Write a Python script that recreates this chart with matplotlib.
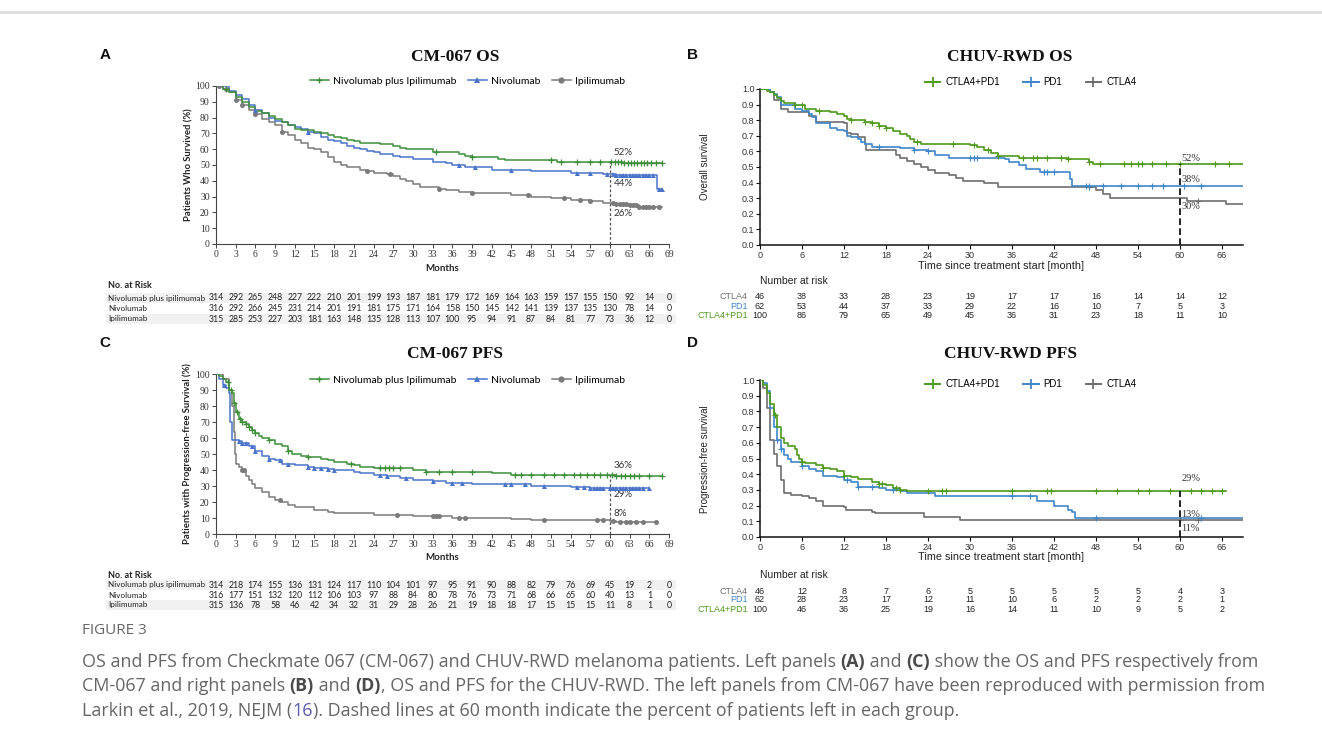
import numpy as np
import matplotlib
matplotlib.use("Agg")
import matplotlib.pyplot as plt
from matplotlib.lines import Line2D
from matplotlib.patches import Rectangle
import matplotlib.transforms as mtransforms

W, H = 1322, 742
fig = plt.figure(figsize=(W / 100, H / 100), dpi=100)
fig.patch.set_facecolor("white")

# ---------------- DATA ----------------
# Panel A: CM-067 OS (percent)
a_combo_t = [0, 1, 2, 3, 4, 5, 6, 7, 8, 9, 10, 11, 12, 13, 15, 16, 17, 18, 19, 20, 21, 22, 25, 27, 28, 29, 33, 37, 38, 39, 43, 44, 52, 62]
a_combo_s = [100, 98, 96, 93, 90, 87, 84, 83, 81, 79, 77, 75, 73, 72, 71, 70, 69, 68, 67, 66, 65, 64, 63, 62, 61, 60, 58, 57, 56, 55, 54, 53, 52, 51]
a_combo_end = 68
a_combo_cens = [1.5, 33.5, 39, 51, 52.5, 55, 57, 58.5, 60.2, 60.7, 61.2, 61.7, 62.2, 62.7, 63.2, 63.7, 64.2, 64.7, 65.2, 65.7, 66.2, 67, 68]
a_nivo_t = [0, 2, 3, 4, 5, 6, 7, 8, 9, 10, 11, 12, 13, 14, 15, 16, 17, 18, 19, 20, 21, 22, 23, 24, 25, 27, 28, 30, 33, 35, 36, 38, 42, 48, 54, 59, 61, 67.2]
a_nivo_s = [100, 97, 94, 92, 88, 85, 83, 80, 78, 77, 75, 74, 73, 71, 70, 68, 66, 65, 64, 62, 61, 60, 59, 58, 57, 56, 55, 54, 52, 51, 50, 49, 47, 46, 45, 44, 43.5, 35]
a_nivo_end = 68
a_nivo_cens = [6, 14, 37, 39.5, 45, 55, 57, 59.5, 60.5, 61, 61.5, 62, 62.5, 63, 63.5, 64, 64.5, 65, 65.5, 66, 66.5, 67.5, 68]
a_ipi_t = [0, 1, 2, 3, 4, 5, 6, 7, 8, 9, 10, 11, 12, 13, 14, 15, 16, 17, 18, 19, 20, 22, 23, 24, 26, 27, 28, 29, 30, 31, 34, 35, 37, 39, 45, 48, 51, 54, 57, 59, 61, 63, 64.5]
a_ipi_s = [100, 98, 96, 91, 88, 85, 82, 79, 77, 75, 71, 69, 66, 64, 61, 60, 58, 55, 52, 50, 49, 47, 46, 45, 44, 43, 41, 40, 38, 36, 35, 34, 33, 32, 31, 30, 29, 28, 27, 26, 25, 24.5, 23.5]
a_ipi_end = 68
a_ipi_cens = [0.5, 1.5, 3, 4, 6, 10, 23, 26.5, 34, 39, 47.5, 53, 55.5, 57, 60.5, 61, 61.5, 62, 62.5, 63, 63.5, 64, 64.5, 65, 65.5, 66, 66.5, 67.5]

# Panel C: CM-067 PFS (percent)
c_combo_t = [0, 0.5, 1, 1.5, 2, 2.5, 2.7, 3, 3.5, 4, 4.5, 5, 5.5, 6, 6.5, 7, 8, 9, 10, 11, 11.5, 13, 14, 16, 17, 18, 20, 21, 22, 24, 30, 32, 39, 42, 45, 61]
c_combo_s = [100, 99, 97, 95, 90, 88, 82, 76, 72, 70, 69, 67, 65, 63, 61, 60, 59, 56, 55, 52, 50, 49, 48, 47, 46, 45, 44, 43, 42, 41, 40, 39, 38.5, 38, 37, 36.5]
c_combo_end = 68
c_combo_cens = [1.8, 2.3, 2.8, 3.2, 3.6, 4.0, 4.5, 5.0, 5.5, 6.0, 8.0, 11.0, 14.0, 20.5, 25, 25.7, 26.3, 27, 28, 32, 34, 36, 39, 45.5, 46.5, 48, 50, 51.5, 53, 54.5, 55.5, 56.5, 57.5, 58.5, 59.5, 60.3, 61, 61.7, 62.3, 63, 63.7, 64.5, 66, 68]
c_nivo_t = [0, 0.5, 1, 1.5, 2, 2.2, 2.4, 3.5, 4, 5, 6, 7, 8, 9, 10, 12, 14, 15, 17, 18, 21, 22, 24, 26, 28, 30, 33, 35, 39, 48, 54, 57]
c_nivo_s = [100, 97, 93, 91, 88, 70, 59, 58, 57, 55, 52, 49, 47, 46, 44, 43, 42, 41, 40.5, 40, 39, 38, 37, 36, 35, 34, 33, 32, 31, 30, 29.5, 29]
c_nivo_end = 66
c_nivo_cens = [1.2, 3.5, 4.0, 4.5, 5.5, 6, 8, 9.8, 11, 14, 15, 16, 17, 18, 25, 26, 29, 33, 36, 37.5, 44, 45, 47, 50, 55, 56, 57, 57.5, 58, 58.5, 59, 60, 60.5, 61, 61.5, 62, 62.5, 63, 63.5, 64, 64.5, 65, 66]
c_ipi_t = [0, 1, 2, 2.5, 2.7, 2.9, 3, 3.5, 4, 4.5, 5, 5.5, 6, 7, 8, 9, 10, 11, 12, 15, 17, 18, 24, 30, 36, 45, 48, 57, 60, 61]
c_ipi_s = [100, 97, 90, 80, 64, 50, 44, 42, 40, 36, 34, 31, 29, 26, 23, 21, 20, 18, 17, 15, 14, 13, 12, 11, 10, 9.5, 9, 8.5, 8, 7.5]
c_ipi_end = 67
c_ipi_cens = [4, 4.2, 9.8, 27.5, 33, 33.5, 34, 37, 38, 50, 58, 59, 60.5, 61.5, 62.5, 63, 64, 65, 67]

# Panel B: CHUV-RWD OS (fraction)
b_combo_t = [0, 1, 1.5, 2, 2.5, 3, 3.5, 5, 6.5, 8, 10, 11, 12, 12.5, 13, 15, 16, 17, 18, 19, 20, 21, 21.5, 22, 23, 30, 31, 32, 33, 34, 37, 44, 47, 47.5]
b_combo_s = [1, .99, .98, .96, .94, .92, .91, .90, .87, .86, .85, .84, .83, .81, .80, .79, .78, .76, .75, .73, .71, .70, .68, .66, .65, .64, .63, .61, .59, .57, .56, .55, .53, .52]
b_combo_end = 69
b_combo_cens = [5, 6, 8.5, 13, 15, 16, 17, 18, 22.5, 27.5, 30.5, 32.5, 34, 37.5, 39, 39.5, 41, 43, 44, 47, 48.5, 52, 53, 54, 54.5, 56, 58, 60, 65, 67]
b_pd1_t = [0, 1.5, 2, 2.5, 3, 5, 6, 7, 7.5, 8, 10, 11, 12, 12.5, 13, 14, 14.5, 15, 16, 20, 22, 24, 25, 27, 35, 35.5, 37, 38, 40, 44.3, 44.6]
b_pd1_s = [1, .98, .97, .95, .90, .87, .86, .84, .82, .78, .75, .74, .73, .70, .69, .68, .66, .65, .63, .62, .61, .60, .58, .56, .55, .53, .51, .49, .47, .42, .38]
b_pd1_end = 69
b_pd1_cens = [17, 22, 24, 30, 30.5, 31, 40.5, 41, 42, 46.5, 47, 49, 51.5, 54, 56, 57.5, 60.5, 63]
b_ctla4_t = [0, 1.5, 2, 3, 4, 7, 8, 12, 12.5, 13, 14, 15, 15.2, 19.5, 20, 21, 22, 23, 24, 25, 27, 28, 29, 32, 34, 48, 49, 50, 61, 66.5]
b_ctla4_s = [1, .98, .93, .87, .85, .83, .79, .78, .72, .71, .69, .65, .61, .58, .56, .54, .52, .50, .48, .46, .45, .43, .41, .40, .37, .35, .33, .30, .28, .26]
b_ctla4_end = 69
b_ctla4_cens = [47, 62.5]

# Panel D: CHUV-RWD PFS (fraction)
d_combo_t = [0, 0.5, 1, 1.5, 2, 2.5, 3, 3.5, 4, 5, 5.3, 5.6, 6, 6.5, 8, 9, 10, 11, 12, 13, 14, 16, 17, 18, 19, 20, 21]
d_combo_s = [1, .97, .92, .85, .78, .70, .63, .60, .58, .56, .52, .50, .48, .47, .46, .44, .43, .42, .39, .38, .37, .35, .34, .33, .31, .30, .29]
d_combo_end = 66.5
d_combo_cens = [2.2, 6, 9, 12, 17, 17.5, 19.5, 20, 24, 26, 26.5, 36, 41, 41.5, 48, 51, 54, 55.5, 58.5, 61.5, 63, 64.5, 66]
d_pd1_t = [0, 0.5, 1, 1.5, 2, 2.5, 3, 3.5, 4, 4.5, 6, 7, 8, 9, 11, 12, 13, 14, 17, 18, 20, 21, 25, 39.5, 42, 44, 44.5, 45]
d_pd1_s = [1, .98, .93, .82, .70, .62, .56, .52, .50, .48, .45, .43, .42, .39, .38, .36, .35, .32, .31, .30, .29, .28, .26, .23, .20, .17, .16, .12]
d_pd1_end = 69
d_pd1_cens = [2.5, 3, 6, 12.5, 14, 16, 19, 36, 38.5, 48, 63]
d_ctla4_t = [0, 0.5, 1, 1.5, 2, 2.5, 3, 3.5, 4.5, 6, 7, 8, 9, 12, 12.3, 16, 16.5, 23.5, 28.5]
d_ctla4_s = [1, .95, .82, .62, .53, .45, .36, .28, .27, .26, .25, .23, .20, .19, .17, .16, .15, .13, .11]
d_ctla4_end = 69
d_ctla4_cens = [60, 62.5]

# risk tables
cm_groups = ["Nivolumab plus ipilimumab", "Nivolumab", "Ipilimumab"]
cm_risk_times = list(range(0, 70, 3))
a_risk = [
    [314, 292, 265, 248, 227, 222, 210, 201, 199, 193, 187, 181, 179, 172, 169, 164, 163, 159, 157, 155, 150, 92, 14, 0],
    [316, 292, 266, 245, 231, 214, 201, 191, 181, 175, 171, 164, 158, 150, 145, 142, 141, 139, 137, 135, 130, 78, 14, 0],
    [315, 285, 253, 227, 203, 181, 163, 148, 135, 128, 113, 107, 100, 95, 94, 91, 87, 84, 81, 77, 73, 36, 12, 0],
]
c_risk = [
    [314, 218, 174, 155, 136, 131, 124, 117, 110, 104, 101, 97, 95, 91, 90, 88, 82, 79, 76, 69, 45, 19, 2, 0],
    [316, 177, 151, 132, 120, 112, 106, 103, 97, 88, 84, 80, 78, 76, 73, 71, 68, 66, 65, 60, 40, 13, 1, 0],
    [315, 136, 78, 58, 46, 42, 34, 32, 31, 29, 28, 26, 21, 19, 18, 18, 17, 15, 15, 15, 11, 8, 1, 0],
]
rwd_groups = ["CTLA4", "PD1", "CTLA4+PD1"]
rwd_risk_times = list(range(0, 67, 6))
b_risk = [
    [46, 38, 33, 28, 23, 19, 17, 17, 16, 14, 14, 12],
    [62, 53, 44, 37, 33, 29, 22, 16, 10, 7, 5, 3],
    [100, 86, 79, 65, 49, 45, 36, 31, 23, 18, 11, 10],
]
d_risk = [
    [46, 12, 8, 7, 6, 5, 5, 5, 5, 5, 4, 3],
    [62, 28, 23, 17, 12, 11, 10, 6, 2, 2, 2, 1],
    [100, 46, 36, 25, 19, 16, 14, 11, 10, 9, 5, 2],
]

# percentages at 60 months
a_pct = [("52%", 52), ("44%", 44), ("26%", 26)]
c_pct = [("36%", 36), ("29%", 29), ("8%", 8)]
b_pct = [("52%", .52), ("38%", .38), ("30%", .30)]
d_pct = [("29%", .29), ("13%", .13), ("11%", .11)]

# ---------------- STYLE ----------------
CM_GREEN, CM_BLUE, CM_GRAY = "#3f8f3a", "#4a74c9", "#7b7b7b"
RW_GREEN, RW_BLUE, RW_GRAY = "#4e9a1c", "#3f87c9", "#6e6e6e"


def P(x, y):
    return (x / W, 1 - y / H)


def add_ax(l, t, r, b):
    return fig.add_axes([l / W, 1 - b / H, (r - l) / W, (b - t) / H])


def step_vals(t, s, end):
    return list(t) + [end], list(s) + [s[-1]]


def at(t, s, x):
    i = np.searchsorted(np.array(t), x, side="right") - 1
    return np.array(s)[i]


def draw_curve(ax, t, s, end, cens, color, marker, ms, lw=1.1, mew=0.9):
    tt, ss = step_vals(t, s, end)
    ax.step(tt, ss, where="post", color=color, lw=lw, zorder=3)
    cx = np.array(cens)
    cy = at(t, s, cx)
    if marker == "+":
        ax.plot(cx, cy, ls="none", marker="+", ms=ms, mew=mew, color=color, zorder=4)
    else:
        ax.plot(cx, cy, ls="none", marker=marker, ms=ms, mew=0, color=color, zorder=4)


SERIF = "Liberation Serif"
SANS = "Liberation Sans"
CMF = "Lato"


def style_cm(ax):
    ax.set_xlim(0, 69)
    ax.set_ylim(0, 100)
    for sp in ["top", "right"]:
        ax.spines[sp].set_visible(False)
    for sp in ["left", "bottom"]:
        ax.spines[sp].set_color("#444444")
        ax.spines[sp].set_linewidth(0.8)
    ax.set_xticks(range(0, 70, 3))
    ax.set_yticks(range(0, 101, 10))
    ax.tick_params(length=3, width=0.7, color="#444444", labelsize=7, pad=1.5, labelcolor="#333333")
    for lab in ax.get_xticklabels() + ax.get_yticklabels():
        lab.set_fontfamily(SERIF)


def style_rw(ax):
    ax.set_xlim(0, 69)
    ax.set_ylim(0, 1.0)
    for sp in ["top", "right"]:
        ax.spines[sp].set_visible(False)
    for sp in ["left", "bottom"]:
        ax.spines[sp].set_color("#111111")
        ax.spines[sp].set_linewidth(1.1)
    ax.set_xticks(range(0, 67, 6))
    ax.set_yticks(np.round(np.arange(0, 1.01, 0.1), 1))
    ax.set_yticklabels([f"{v:.1f}" for v in np.arange(0, 1.01, 0.1)])
    ax.tick_params(length=3, width=0.8, color="#111111", labelsize=6.5, pad=1.0, labelcolor="#333333")
    for lab in ax.get_xticklabels() + ax.get_yticklabels():
        lab.set_fontfamily(SANS)


def cm_panel(box, curves, pct, pct_y, vtop, legend_y):
    ax = add_ax(*box)
    style_cm(ax)
    (t1, s1, e1, c1), (t2, s2, e2, c2), (t3, s3, e3, c3) = curves
    draw_curve(ax, t3, s3, e3, c3, CM_GRAY, "o", 3.6)
    draw_curve(ax, t2, s2, e2, c2, CM_BLUE, "^", 3.6)
    draw_curve(ax, t1, s1, e1, c1, CM_GREEN, "+", 4.0)
    ax.plot([60, 60], [0, vtop], ls=(0, (2.2, 1.6)), color="#555555", lw=0.9, zorder=2)
    for (lab, v), y in zip(pct, pct_y):
        ax.text(60.6, y, lab, fontsize=7, family=CMF, color="#333333", va="center", ha="left")
    handles = [Line2D([], [], color=CM_GREEN, marker="+", ms=5, mew=1, lw=1.1),
               Line2D([], [], color=CM_BLUE, marker="^", ms=4, mew=0, lw=1.1),
               Line2D([], [], color=CM_GRAY, marker="o", ms=4.5, mew=0, lw=1.1)]
    ax.legend(handles, ["Nivolumab plus Ipilimumab", "Nivolumab", "Ipilimumab"], loc="center",
              bbox_to_anchor=(0.555, legend_y), ncol=3, frameon=False, handlelength=1.8,
              columnspacing=1.1, handletextpad=0.4, prop={"family": CMF, "size": 7.5})
    return ax


def rw_panel(box, curves, pct, pct_y, vtop, legend_y):
    ax = add_ax(*box)
    style_rw(ax)
    (t1, s1, e1, c1), (t2, s2, e2, c2), (t3, s3, e3, c3) = curves
    draw_curve(ax, t3, s3, e3, c3, RW_GRAY, "+", 5, lw=1.2, mew=0.8)
    draw_curve(ax, t2, s2, e2, c2, RW_BLUE, "+", 5, lw=1.2, mew=0.8)
    draw_curve(ax, t1, s1, e1, c1, RW_GREEN, "+", 5, lw=1.2, mew=0.8)
    ax.plot([60, 60], [0, vtop], ls=(0, (4, 2)), color="#000000", lw=1.2, zorder=5)
    for (lab, v), y in zip(pct, pct_y):
        ax.text(60.2, y, lab, fontsize=7.5, family=SERIF, color="#333333", va="center", ha="left")
    handles = [Line2D([], [], color=c, marker="+", ms=7, mew=1.3, lw=1.4) for c in (RW_GREEN, RW_BLUE, RW_GRAY)]
    ax.legend(handles, ["CTLA4+PD1", "PD1", "CTLA4"], loc="center",
              bbox_to_anchor=(0.56, legend_y), ncol=3, frameon=False, handlelength=1.6,
              columnspacing=2.4, handletextpad=0.5, prop={"family": SANS, "size": 7})
    return ax


# ---------------- PANELS ----------------
axA = cm_panel((216, 86, 669, 244),
               [(a_combo_t, a_combo_s, a_combo_end, a_combo_cens),
                (a_nivo_t, a_nivo_s, a_nivo_end, a_nivo_cens),
                (a_ipi_t, a_ipi_s, a_ipi_end, a_ipi_cens)],
               a_pct, [58, 38.5, 19.5], 53, 1.03)
axC = cm_panel((216, 374, 669, 534),
               [(c_combo_t, c_combo_s, c_combo_end, c_combo_cens),
                (c_nivo_t, c_nivo_s, c_nivo_end, c_nivo_cens),
                (c_ipi_t, c_ipi_s, c_ipi_end, c_ipi_cens)],
               c_pct, [43, 24.5, 13], 37, 0.96)
axB = rw_panel((760, 89, 1243, 245),
               [(b_combo_t, b_combo_s, b_combo_end, b_combo_cens),
                (b_pd1_t, b_pd1_s, b_pd1_end, b_pd1_cens),
                (b_ctla4_t, b_ctla4_s, b_ctla4_end, b_ctla4_cens)],
               b_pct, [0.555, 0.42, 0.245], 0.52, 1.045)
axD = rw_panel((760, 380, 1243, 537),
               [(d_combo_t, d_combo_s, d_combo_end, d_combo_cens),
                (d_pd1_t, d_pd1_s, d_pd1_end, d_pd1_cens),
                (d_ctla4_t, d_ctla4_s, d_ctla4_end, d_ctla4_cens)],
               d_pct, [0.37, 0.145, 0.055], 0.29, 0.975)

# titles, letters, axis labels
for x, y, s in [(455, 57, "CM-067 OS"), (455, 354, "CM-067 PFS"), (1010, 57, "CHUV-RWD OS"), (1010, 354, "CHUV-RWD PFS")]:
    fig.text(*P(x, y), s, family=SERIF, weight="bold", fontsize=12.5, ha="center", va="center", color="#111111")
for x, y, s in [(105, 55, "A"), (693, 55, "B"), (105, 343, "C"), (693, 343, "D")]:
    fig.text(*P(x, y), s, family=SANS, weight="bold", fontsize=11, ha="center", va="center", color="#111111")

fig.text(*P(189, 165), "Patients Who Survived (%)", family=CMF, weight="bold", fontsize=6.8,
         rotation=90, ha="center", va="center", color="#222222")
fig.text(*P(187, 454), "Patients with Progression-free Survival (%)", family=CMF, weight="bold", fontsize=6.8,
         rotation=90, ha="center", va="center", color="#222222")
fig.text(*P(442, 269), "Months", family=CMF, weight="bold", fontsize=7, ha="center", va="center", color="#222222")
fig.text(*P(442, 558), "Months", family=CMF, weight="bold", fontsize=7, ha="center", va="center", color="#222222")
fig.text(*P(705, 167), "Overall survival", family=SANS, fontsize=7, rotation=90, ha="center", va="center", color="#222222")
fig.text(*P(705, 459), "Progression-free survival", family=SANS, fontsize=7, rotation=90, ha="center", va="center", color="#222222")
fig.text(*P(1001, 266), "Time since treatment start [month]", family=SANS, fontsize=7.8, ha="center", va="center", color="#222222")
fig.text(*P(1001, 557), "Time since treatment start [month]", family=SANS, fontsize=7.8, ha="center", va="center", color="#222222")


# ---------------- RISK TABLES ----------------
def cm_table(ax, header_y, row_ys, risk):
    tr = mtransforms.blended_transform_factory(ax.transData, fig.transFigure)
    fig.text(*P(108, header_y), "No. at Risk", family=CMF, weight="bold", fontsize=6.5, va="center", color="#222222")
    for k, (y, g, vals) in enumerate(zip(row_ys, cm_groups, risk)):
        if k != 1:
            fig.patches.append(Rectangle(P(106, y + 5), 570 / W, 10 / H, transform=fig.transFigure,
                                         facecolor="#f1f1f1", edgecolor="none", zorder=0))
        fig.text(*P(108, y), g, family=CMF, fontsize=5.9, va="center", color="#222222")
        for tm, v in zip(cm_risk_times, vals):
            fig.text(tm, 1 - y / H, str(v), transform=tr, family=CMF, fontsize=6.3,
                     ha="center", va="center", color="#222222")


def rw_table(ax, header_y, row_ys, risk):
    tr = mtransforms.blended_transform_factory(ax.transData, fig.transFigure)
    fig.text(*P(760, header_y), "Number at risk", family=SANS, fontsize=7.5, va="center", color="#222222")
    for y, g, vals, c in zip(row_ys, rwd_groups, risk, (RW_GRAY, RW_BLUE, RW_GREEN)):
        fig.text(*P(748, y), g, family=SANS, fontsize=6.5, va="center", ha="right", color=c)
        for tm, v in zip(rwd_risk_times, vals):
            fig.text(tm, 1 - y / H, str(v), transform=tr, family=SANS, fontsize=6.5,
                     ha="center", va="center", color="#222222")


cm_table(axA, 286, [298, 308.5, 319], a_risk)
cm_table(axC, 575, [585, 595, 605], c_risk)
rw_table(axB, 281, [297, 306.5, 316], b_risk)
rw_table(axD, 575, [591, 600, 609], d_risk)

# ---------------- DECOR & CAPTION ----------------
fig.add_artist(Line2D([0, 1], [1 - 12 / H, 1 - 12 / H], transform=fig.transFigure, color="#dddddd", lw=2))

CAP = "Open Sans"
fig.text(*P(82, 630), "FIGURE 3", family=CAP, fontsize=11, color="#666666", va="center")

renderer = fig.canvas.get_renderer()


def rich(x, y, pieces):
    xf = x / W
    for s, w, c in pieces:
        t = fig.text(xf, 1 - y / H, s, family=CAP, fontsize=12.9, weight=w, color=c, va="center", ha="left")
        bb = t.get_window_extent(renderer)
        xf += bb.width / W


TXT = "#666666"
BLD = "#4a4a4a"
rich(82, 662, [("OS and PFS from Checkmate 067 (CM-067) and CHUV-RWD melanoma patients. Left panels ", "normal", TXT),
               ("(A)", "bold", BLD), (" and ", "normal", TXT), ("(C)", "bold", BLD),
               (" show the OS and PFS respectively from", "normal", TXT)])
rich(82, 686, [("CM-067 and right panels ", "normal", TXT), ("(B)", "bold", BLD), (" and ", "normal", TXT),
               ("(D)", "bold", BLD),
               (", OS and PFS for the CHUV-RWD. The left panels from CM-067 have been reproduced with permission from", "normal", TXT)])
rich(82, 711, [("Larkin et al., 2019, NEJM (", "normal", TXT), ("16", "normal", "#5b5ba8"),
               ("). Dashed lines at 60 month indicate the percent of patients left in each group.", "normal", TXT)])

fig.savefig("out.png", dpi=100, facecolor="white")
